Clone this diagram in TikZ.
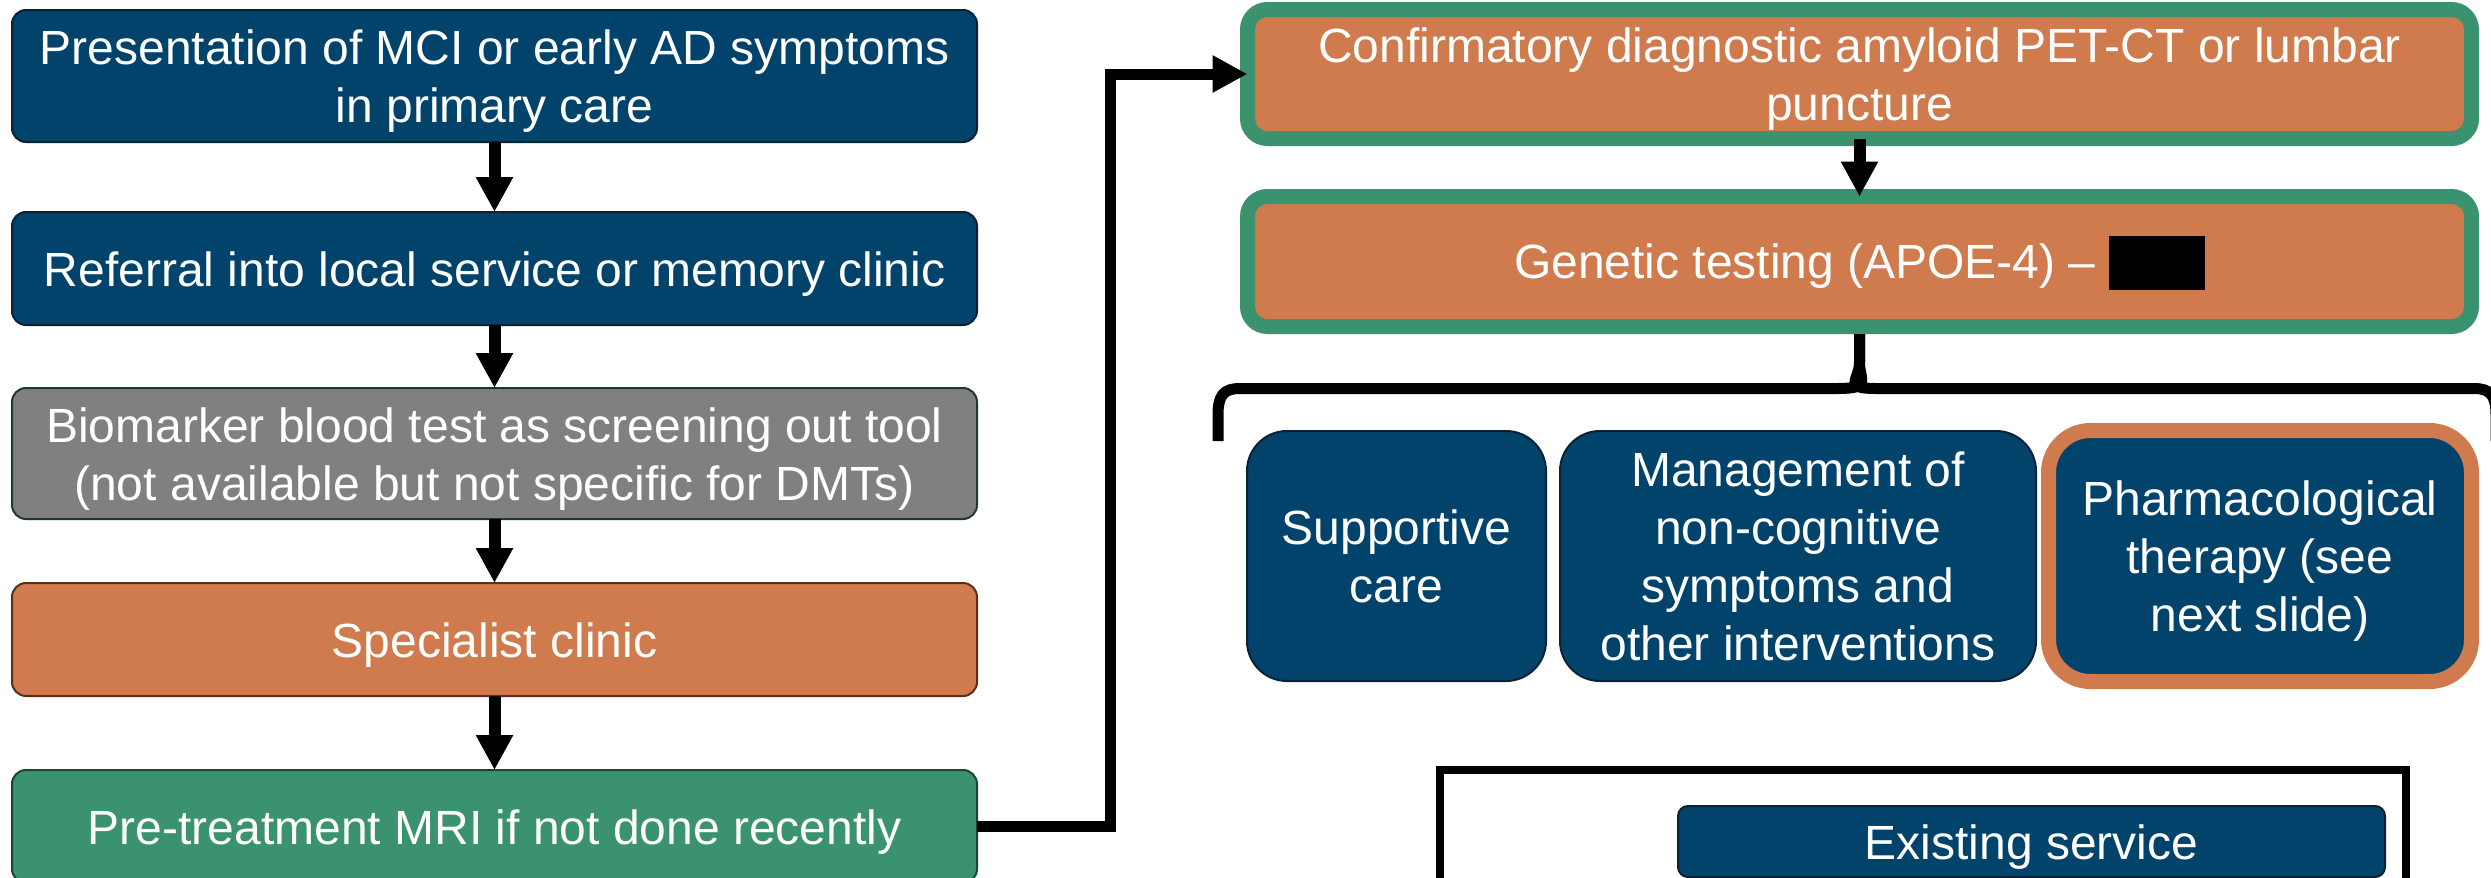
\documentclass[tikz,border=0pt]{standalone}
\usepackage{fontspec}
\setmainfont{Liberation Sans}
\usetikzlibrary{arrows.meta}
\definecolor{navy}{HTML}{01436B}
\definecolor{navyline}{HTML}{0B2236}
\definecolor{grayfill}{HTML}{808080}
\definecolor{grayline}{HTML}{1E3A2E}
\definecolor{orangefill}{HTML}{CF7B4D}
\definecolor{orangeline}{HTML}{5A2E18}
\definecolor{greenfill}{HTML}{3A926F}
\definecolor{greenline}{HTML}{1C4634}
\newcommand\Tstr{\rule{0pt}{22.5pt}}
\newcommand\Bstr{\rule[-5pt]{0pt}{5pt}}
\begin{document}
\begin{tikzpicture}[x=0.5pt,y=-0.5pt,
  box/.style={draw, line width=1pt, rounded corners=7pt, text=white, align=center,
    font=\fontsize{24pt}{29pt}\selectfont, inner sep=0pt, outer sep=0pt},
  leftbox/.style={box, minimum width=482.5pt},
  navybox/.style={fill=navy, draw=navyline},
  graybox/.style={fill=grayfill, draw=grayline},
  orangebox/.style={fill=orangefill, draw=orangeline},
  greenbox/.style={fill=greenfill, draw=greenline},
  framedbox/.style={box, fill=orangefill, draw=greenfill, line width=7.5pt, rounded corners=10pt, minimum width=612pt},
  optionbox/.style={box, fill=navy, draw=navyline, rounded corners=20pt, minimum height=125pt},
  arr/.style={line width=6pt, -{Triangle[width=17.5pt,length=17.5pt]}},
  bracestyle/.style={line width=5.5pt},
  legendframe/.style={draw=black, line width=4pt, inner sep=0pt, outer sep=0pt}
]
\useasboundingbox (0,0) rectangle (2491,878);

% left column
\node[leftbox, navybox, minimum height=66pt] (b1) at (494.5,76)
  {\Tstr Presentation of MCI or early AD symptoms\\in primary care\Bstr};
\node[leftbox, navybox, minimum height=56.5pt] (b2) at (494.5,268.5)
  {\Tstr Referral into local service or memory clinic\Bstr};
\node[leftbox, graybox, minimum height=65.5pt] (b3) at (494.5,453.5)
  {\Tstr Biomarker blood test as screening out tool\\(not available but not specific for DMTs)\Bstr};
\node[leftbox, orangebox, minimum height=56.5pt] (b4) at (494.5,639.5)
  {\Tstr Specialist clinic\Bstr};
\node[leftbox, greenbox, minimum height=56.5pt] (b5) at (494.5,826.5)
  {\Tstr Pre-treatment MRI if not done recently\Bstr};

\draw[arr] (b1.south) -- (b2.north);
\draw[arr] (b2.south) -- (b3.north);
\draw[arr] (b3.south) -- (b4.north);
\draw[arr] (b4.south) -- (b5.north);

% right column
\node[framedbox, minimum height=64.5pt] (conf) at (1859.5,74)
  {\Tstr Confirmatory diagnostic amyloid PET-CT or lumbar\\puncture\Bstr};
\node[framedbox, minimum height=65pt] (gen) at (1859.5,261.5)
  {\Tstr Genetic testing (APOE-4) -- \textcolor{black}{\rule[-5.5pt]{48pt}{27pt}}\Bstr};

\coordinate (elbow) at (1110,0);
\draw[arr, line width=5.5pt] (b5.east) -| (elbow |- conf.west) -- (conf.west);
\draw[arr] (conf.south) -- (gen.north);

% brace
\coordinate (stem) at ([yshift=-3.75pt]gen.south);
\coordinate (bl) at (1218,441);
\coordinate (br) at (2496,441);
\draw[bracestyle] (stem) -- ++(0,28) .. controls ++(0,18) and (1872,388.5) .. (1838,388.5)
  -- (1240,388.5) .. controls (1224,388.5) and (1218,395) .. (1218,415) -- (bl);
\draw[bracestyle] (stem) -- ++(0,28) .. controls ++(0,18) and (1842,388.5) .. (1876,388.5)
  -- (2474,388.5) .. controls (2490,388.5) and (2496,395) .. (2496,415) -- (br);

% options
\node[optionbox, minimum width=149.5pt] (sup) at (1396.5,556) {\Tstr Supportive\\care\Bstr};
\node[optionbox, minimum width=238pt] (mgmt) at (1798,556)
  {\Tstr Management of\\non-cognitive\\symptoms and\\other interventions\Bstr};
\node[box, fill=navy, draw=orangefill, line width=7.5pt, rounded corners=21pt,
  minimum width=211.5pt, minimum height=125.5pt] (pharm) at (2260,556)
  {\Tstr Pharmacological\\therapy (see\\next slide)\Bstr};

% legend
\node[legendframe, minimum width=483pt, minimum height=115pt] (legend) at (1923,885) {};
\node[box, navybox, rounded corners=5pt, minimum width=353.5pt, minimum height=35.5pt]
  (existing) at (2031.5,841.5) {\Tstr Existing service\Bstr};
\end{tikzpicture}
\end{document}
